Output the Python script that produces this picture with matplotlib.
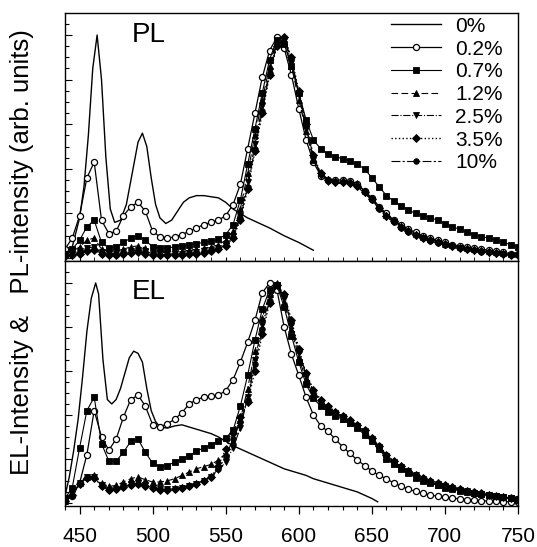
import matplotlib
matplotlib.use("Agg")
import matplotlib.pyplot as plt
from matplotlib.ticker import MultipleLocator, NullFormatter
import numpy as np

plt.rcParams['font.family'] = ['Liberation Sans', 'DejaVu Sans']

# ---------------- data ----------------
series_labels = ['0%', '0.2%', '0.7%', '1.2%', '2.5%', '3.5%', '10%']
x_ticks = [450, 500, 550, 600, 650, 700, 750]

# common wavelength grid for the doped samples (nm)
wl = list(range(440, 751, 5))

# ---- PL panel ----
pl_0_wl = [440, 445, 450, 453, 456, 459, 462, 465, 468, 471, 474, 478, 482, 486, 490, 493, 496, 499,
           502, 505, 509, 513, 517, 521, 525, 530, 535, 540, 545, 550, 555, 560, 565, 570, 580, 590,
           600, 610]
pl_0 = [0.02, 0.05, 0.18, 0.32, 0.55, 0.85, 1.0, 0.80, 0.45, 0.22, 0.16, 0.17, 0.24, 0.38, 0.52, 0.56,
        0.50, 0.36, 0.24, 0.18, 0.155, 0.17, 0.21, 0.25, 0.27, 0.28, 0.28, 0.275, 0.27, 0.25, 0.22,
        0.20, 0.18, 0.165, 0.135, 0.10, 0.07, 0.035]

pl_02 = [0.04, 0.09, 0.19, 0.36, 0.43, 0.17, 0.11, 0.12, 0.19, 0.23, 0.25, 0.21, 0.12, 0.095, 0.09,
         0.095, 0.105, 0.12, 0.135, 0.15, 0.16, 0.17, 0.19, 0.24, 0.33, 0.49, 0.65, 0.81, 0.93, 0.99,
         0.94, 0.82, 0.67, 0.53, 0.43, 0.37, 0.35, 0.35, 0.35, 0.345, 0.33, 0.30, 0.27, 0.23, 0.20,
         0.17, 0.15, 0.13, 0.115, 0.10, 0.09, 0.08, 0.07, 0.06, 0.055, 0.05, 0.045, 0.04, 0.035,
         0.03, 0.025, 0.02, 0.02]
pl_07 = [0.02, 0.04, 0.08, 0.14, 0.17, 0.07, 0.045, 0.05, 0.07, 0.09, 0.10, 0.08, 0.05, 0.045, 0.045,
         0.05, 0.055, 0.06, 0.065, 0.07, 0.075, 0.085, 0.105, 0.15, 0.26, 0.42, 0.58, 0.74, 0.89, 0.98,
         0.96, 0.86, 0.74, 0.62, 0.53, 0.49, 0.465, 0.455, 0.445, 0.435, 0.42, 0.40, 0.36, 0.32, 0.28,
         0.255, 0.235, 0.215, 0.20, 0.19, 0.18, 0.17, 0.155, 0.14, 0.13, 0.115, 0.105, 0.095, 0.09,
         0.08, 0.07, 0.06, 0.05]
pl_12 = [0.015, 0.03, 0.05, 0.08, 0.09, 0.04, 0.03, 0.03, 0.04, 0.05, 0.055, 0.045, 0.03, 0.025,
         0.025, 0.03, 0.03, 0.035, 0.04, 0.045, 0.05, 0.06, 0.08, 0.12, 0.22, 0.38, 0.55, 0.71, 0.86,
         0.97, 0.97, 0.86, 0.71, 0.57, 0.44, 0.38, 0.355, 0.35, 0.35, 0.345, 0.335, 0.30, 0.27, 0.23,
         0.195, 0.17, 0.145, 0.125, 0.11, 0.095, 0.085, 0.075, 0.065, 0.058, 0.05, 0.045, 0.04, 0.035,
         0.03, 0.027, 0.023, 0.02, 0.017]
pl_25 = [0.01, 0.02, 0.03, 0.045, 0.05, 0.025, 0.02, 0.02, 0.025, 0.03, 0.035, 0.03, 0.02, 0.018,
         0.018, 0.02, 0.02, 0.022, 0.025, 0.03, 0.035, 0.045, 0.06, 0.10, 0.19, 0.34, 0.51, 0.68, 0.84,
         0.96, 0.98, 0.88, 0.73, 0.58, 0.45, 0.37, 0.34, 0.335, 0.335, 0.33, 0.32, 0.29, 0.26, 0.22,
         0.185, 0.16, 0.135, 0.115, 0.10, 0.088, 0.077, 0.067, 0.058, 0.05, 0.044, 0.038, 0.033,
         0.028, 0.024, 0.02, 0.017, 0.015, 0.012]
pl_35 = [0.008, 0.012, 0.02, 0.03, 0.035, 0.02, 0.015, 0.015, 0.018, 0.022, 0.025, 0.02, 0.015, 0.012,
         0.012, 0.013, 0.015, 0.017, 0.02, 0.024, 0.03, 0.04, 0.055, 0.09, 0.17, 0.31, 0.48, 0.65, 0.82,
         0.95, 0.99, 0.90, 0.75, 0.60, 0.46, 0.38, 0.35, 0.34, 0.34, 0.335, 0.325, 0.295, 0.265, 0.225,
         0.19, 0.165, 0.14, 0.12, 0.105, 0.092, 0.08, 0.07, 0.061, 0.053, 0.046, 0.04, 0.035, 0.03,
         0.026, 0.022, 0.019, 0.016, 0.013]
pl_10 = [0.01, 0.015, 0.025, 0.035, 0.04, 0.02, 0.016, 0.016, 0.02, 0.025, 0.03, 0.024, 0.017, 0.014,
         0.014, 0.015, 0.017, 0.019, 0.022, 0.026, 0.032, 0.042, 0.058, 0.095, 0.18, 0.32, 0.49, 0.66,
         0.83, 0.955, 0.985, 0.89, 0.74, 0.59, 0.455, 0.375, 0.345, 0.34, 0.34, 0.335, 0.325, 0.295,
         0.26, 0.22, 0.187, 0.16, 0.137, 0.117, 0.102, 0.09, 0.078, 0.068, 0.06, 0.052, 0.045, 0.039,
         0.034, 0.029, 0.025, 0.021, 0.018, 0.015, 0.012]

# ---- EL panel ----
el_0_wl = [440, 443, 446, 449, 452, 455, 458, 461, 463, 466, 469, 472, 475, 478, 481, 484, 487, 490,
           493, 496, 499, 502, 505, 510, 515, 520, 525, 530, 535, 540, 545, 550, 555, 560, 565, 570,
           575, 580, 585, 590, 595, 600, 605, 610, 615, 620, 625, 630, 635, 640, 645, 650, 654]
el_0 = [0.03, 0.12, 0.24, 0.38, 0.57, 0.78, 0.93, 1.0, 0.95, 0.65, 0.47, 0.45, 0.47, 0.52, 0.59, 0.66,
        0.69, 0.68, 0.64, 0.52, 0.42, 0.37, 0.345, 0.34, 0.35, 0.355, 0.345, 0.335, 0.325, 0.315,
        0.30, 0.28, 0.26, 0.245, 0.23, 0.215, 0.20, 0.185, 0.17, 0.155, 0.145, 0.135, 0.125, 0.11,
        0.10, 0.09, 0.08, 0.07, 0.06, 0.05, 0.035, 0.02, 0.005]

el_02 = [0.01, 0.03, 0.09, 0.22, 0.42, 0.30, 0.24, 0.29, 0.39, 0.47, 0.49, 0.44, 0.355, 0.345, 0.36,
         0.38, 0.41, 0.45, 0.47, 0.48, 0.485, 0.49, 0.51, 0.56, 0.64, 0.73, 0.83, 0.955, 1.0, 0.97,
         0.80, 0.675, 0.58, 0.48, 0.40, 0.35, 0.325, 0.29, 0.255, 0.225, 0.195, 0.17, 0.145, 0.125,
         0.11, 0.09, 0.075, 0.063, 0.052, 0.043, 0.036, 0.03, 0.026, 0.022, 0.018, 0.015, 0.012,
         0.01, 0.008, 0.007, 0.006, 0.005, 0.005]
el_07 = [0.02, 0.07, 0.25, 0.42, 0.48, 0.27, 0.19, 0.19, 0.23, 0.28, 0.29, 0.23, 0.18, 0.165, 0.17,
         0.185, 0.20, 0.215, 0.235, 0.25, 0.265, 0.28, 0.295, 0.33, 0.44, 0.58, 0.74, 0.88, 0.97, 0.99,
         0.89, 0.76, 0.64, 0.54, 0.475, 0.44, 0.415, 0.395, 0.38, 0.365, 0.34, 0.31, 0.28, 0.245,
         0.20, 0.175, 0.155, 0.135, 0.115, 0.10, 0.09, 0.08, 0.07, 0.062, 0.055, 0.05, 0.045, 0.04,
         0.035, 0.03, 0.025, 0.02, 0.015]
el_12 = [0.01, 0.04, 0.09, 0.12, 0.125, 0.09, 0.075, 0.08, 0.095, 0.11, 0.118, 0.105, 0.095, 0.095,
         0.10, 0.11, 0.125, 0.14, 0.155, 0.165, 0.175, 0.195, 0.225, 0.28, 0.38, 0.52, 0.69, 0.84, 0.95,
         1.0, 0.91, 0.79, 0.66, 0.56, 0.49, 0.45, 0.42, 0.40, 0.38, 0.365, 0.345, 0.32, 0.285, 0.25,
         0.21, 0.18, 0.16, 0.14, 0.12, 0.105, 0.093, 0.083, 0.074, 0.066, 0.058, 0.052, 0.046, 0.04,
         0.035, 0.03, 0.025, 0.02, 0.016]
el_25 = [0.01, 0.04, 0.09, 0.12, 0.12, 0.08, 0.06, 0.065, 0.075, 0.085, 0.09, 0.08, 0.07, 0.062,
         0.062, 0.065, 0.07, 0.077, 0.088, 0.10, 0.12, 0.15, 0.185, 0.25, 0.34, 0.48, 0.65, 0.81, 0.93,
         0.99, 0.93, 0.81, 0.68, 0.58, 0.505, 0.46, 0.43, 0.41, 0.39, 0.37, 0.35, 0.325, 0.29, 0.255,
         0.215, 0.185, 0.163, 0.143, 0.125, 0.11, 0.097, 0.086, 0.077, 0.068, 0.06, 0.053, 0.047,
         0.041, 0.036, 0.031, 0.026, 0.021, 0.017]
el_35 = [0.01, 0.035, 0.085, 0.115, 0.115, 0.075, 0.058, 0.062, 0.072, 0.082, 0.088, 0.078, 0.068,
         0.06, 0.06, 0.063, 0.068, 0.075, 0.085, 0.098, 0.118, 0.17, 0.245, 0.32, 0.39, 0.46, 0.60,
         0.77, 0.91, 0.99, 0.95, 0.83, 0.70, 0.59, 0.515, 0.47, 0.44, 0.415, 0.395, 0.375, 0.355,
         0.33, 0.295, 0.26, 0.22, 0.19, 0.167, 0.147, 0.128, 0.113, 0.10, 0.089, 0.08, 0.071, 0.063,
         0.055, 0.049, 0.043, 0.037, 0.032, 0.027, 0.022, 0.018]
el_10 = [0.01, 0.038, 0.088, 0.118, 0.118, 0.078, 0.06, 0.063, 0.073, 0.083, 0.088, 0.079, 0.069,
         0.061, 0.061, 0.064, 0.069, 0.076, 0.086, 0.099, 0.119, 0.155, 0.21, 0.29, 0.37, 0.47, 0.63,
         0.79, 0.92, 0.99, 0.94, 0.82, 0.69, 0.585, 0.51, 0.465, 0.435, 0.413, 0.393, 0.373, 0.353,
         0.328, 0.293, 0.258, 0.218, 0.188, 0.165, 0.145, 0.127, 0.112, 0.099, 0.088, 0.079, 0.07,
         0.062, 0.054, 0.048, 0.042, 0.037, 0.032, 0.027, 0.022, 0.018]

# ---------------- styles ----------------
styles = {
    '0%':   dict(ls='-', lw=1.0, marker=None),
    '0.2%': dict(ls='-', lw=0.9, marker='o', ms=4.4, mfc='white', mec='black', mew=0.9),
    '0.7%': dict(ls='-', lw=0.8, marker='s', ms=4.0, mfc='black', mec='black', mew=0.6),
    '1.2%': dict(ls=(0, (6, 3)), lw=0.8, marker='^', ms=4.0, mfc='black', mec='black', mew=0.6),
    '2.5%': dict(ls='-.', lw=0.8, marker='v', ms=4.0, mfc='black', mec='black', mew=0.6),
    '3.5%': dict(ls=':', lw=1.0, marker='D', ms=3.6, mfc='black', mec='black', mew=0.6),
    '10%':  dict(ls=(0, (8, 2, 2, 2)), lw=0.8, marker='o', ms=4.0, mfc='black', mec='black', mew=0.6),
}

fig = plt.figure(figsize=(5.37, 5.47), dpi=100)
ax_pl = fig.add_axes([0.121, 0.5229, 0.8436, 0.4534])
ax_el = fig.add_axes([0.121, 0.0750, 0.8436, 0.4479])

pl_data = [(pl_0_wl, pl_0), (wl, pl_02), (wl, pl_07), (wl, pl_12), (wl, pl_25), (wl, pl_35), (wl, pl_10)]
el_data = [(el_0_wl, el_0), (wl, el_02), (wl, el_07), (wl, el_12), (wl, el_25), (wl, el_35), (wl, el_10)]

for ax, data in ((ax_pl, pl_data), (ax_el, el_data)):
    for lab, (xs, ys) in zip(series_labels, data):
        st = styles[lab]
        ax.plot(xs, ys, color='black', label=lab, **st)
    ax.set_xlim(440, 750)
    ax.xaxis.set_major_locator(MultipleLocator(50))
    ax.xaxis.set_minor_locator(MultipleLocator(10))
    ax.yaxis.set_major_locator(MultipleLocator(0.2))
    ax.yaxis.set_minor_locator(MultipleLocator(0.05))
    ax.yaxis.set_major_formatter(NullFormatter())
    ax.tick_params(axis='y', which='major', direction='in', length=5, width=0.8, left=True, right=False)
    ax.tick_params(axis='y', which='minor', direction='in', length=3, width=0.8, left=True, right=False)
    for sp in ax.spines.values():
        sp.set_linewidth(1.0)

ax_pl.set_ylim(-0.013, 1.099)
ax_el.set_ylim(-0.014, 1.10)

ax_pl.tick_params(axis='x', which='both', direction='in', length=3, labelbottom=False)
ax_el.set_xticks(x_ticks)
ax_el.tick_params(axis='x', which='major', direction='out', length=6, width=0.9, labelsize=15, pad=9)
ax_el.tick_params(axis='x', which='minor', direction='out', length=3, width=0.8)

ax_pl.text(0.148, 0.965, 'PL', transform=ax_pl.transAxes, fontsize=20, ha='left', va='top')
ax_el.text(0.148, 0.925, 'EL', transform=ax_el.transAxes, fontsize=20, ha='left', va='top')

ax_pl.legend(loc='upper right', bbox_to_anchor=(0.995, 1.035), frameon=False, fontsize=15,
             handlelength=2.4, handletextpad=0.7, labelspacing=0.18, borderpad=0.1)

fig.text(0.041, 0.540, 'EL-Intensity &   PL-intensity (arb. units)', rotation=90,
         fontsize=18.5, ha='center', va='center')

fig.savefig('out.png', dpi=100)
